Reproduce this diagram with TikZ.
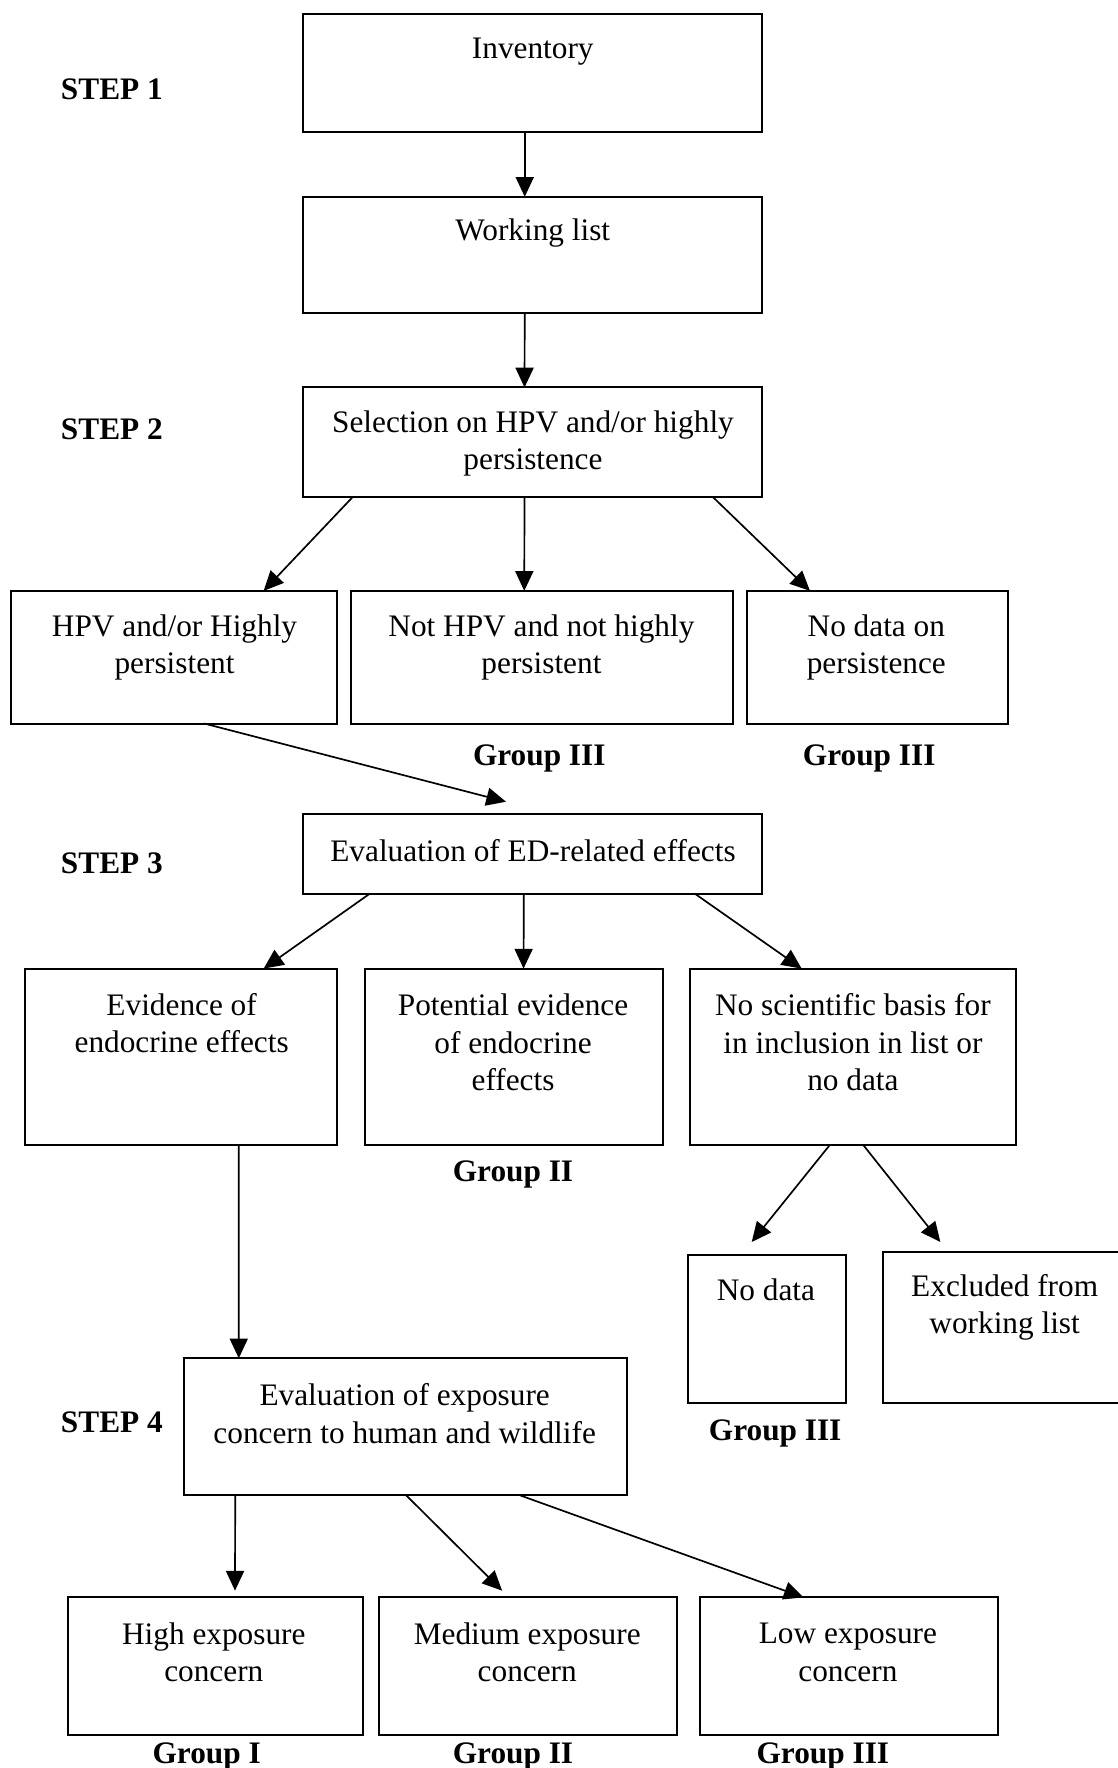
\documentclass[tikz,border=0pt]{standalone}
\usepackage{fontspec}
\setmainfont{Liberation Serif}
\usetikzlibrary{arrows.meta,calc}

\begin{document}
\begin{tikzpicture}[x=0.02cm,y=-0.02cm,every text node part/.style={align=center},
    every node/.style={font=\fontsize{15.8}{18.8}\selectfont},
    box/.style={draw,line width=1pt,inner sep=0pt,outer sep=0pt},
    txt/.style={yshift=-0.05cm},
    steplabel/.style={txt,font=\fontsize{15.8}{18.8}\selectfont\bfseries},
    grouplabel/.style={txt,font=\fontsize{15.8}{18.8}\selectfont\bfseries},
    arr/.style={line width=0.85pt,-{Triangle[length=0.35cm,width=0.32cm]}}]

    \useasboundingbox (0,0) rectangle (991,1568);

    % --------------------------------------------------------- %
    % ------------- STEP 1 (Inventory, working list)
    % --------------------------------------------------------- %
    \node[steplabel] (step1) at (99.2,76.3) {STEP 1};
    \node[box,minimum width=8.152cm,minimum height=2.088cm] (inv) at (472.3,64.6) {};
    \node[txt] (invtxt) at (472.5,42.9) {Inventory};
    \node[box,minimum width=8.152cm,minimum height=2.07cm] (work) at (472.3,226.25) {};
    \node[txt] (worktxt) at (472.5,204) {Working list};
    \draw[arr] ($(inv.south west)!.483!(inv.south east)$) -- ($(work.north west)!.483!(work.north east)$);

    % --------------------------------------------------------- %
    % ------------- STEP 2 (HPV and persistence)
    % --------------------------------------------------------- %
    \node[steplabel] (step2) at (99.2,378.5) {STEP 2};
    \node[box,minimum width=8.14cm,minimum height=1.94cm] (sel) at (472.5,392.1) {};
    \node[txt] (seltxt) at (472.7,391.1) {Selection on HPV and/or highly\\persistence};
    \draw[arr] ($(work.south west)!.483!(work.south east)$) -- ($(sel.north west)!.482!(sel.north east)$);

    \node[box,minimum width=5.79cm,minimum height=2.354cm] (hpv) at (154.25,582.85) {};
    \node[txt] (hpvtxt) at (154.8,571.5) {HPV and/or Highly\\persistent};
    \node[box,minimum width=6.786cm,minimum height=2.354cm] (nothpv) at (480.55,582.85) {};
    \node[txt] (nothpvtxt) at (480.2,571.5) {Not HPV and not highly\\persistent};
    \node[box,minimum width=4.638cm,minimum height=2.354cm] (nopers) at (778.15,582.85) {};
    \node[txt] (noperstxt) at (777.2,571.5) {No data on\\persistence};

    \draw[arr] ($(sel.south west)!.108!(sel.south east)$) -- ($(hpv.north west)!.775!(hpv.north east)$);
    \draw[arr] ($(sel.south west)!.482!(sel.south east)$) -- ($(nothpv.north west)!.454!(nothpv.north east)$);
    \draw[arr] ($(sel.south west)!.892!(sel.south east)$) -- ($(nopers.north west)!.242!(nopers.north east)$);

    \node[grouplabel] (grpnothpv) at (478.3,669.8) {Group III};
    \node[grouplabel] (grpnopers) at (770.9,669.8) {Group III};

    % --------------------------------------------------------- %
    % ------------- STEP 3 (ED-related effects)
    % --------------------------------------------------------- %
    \node[steplabel] (step3) at (99.2,763) {STEP 3};
    \node[box,minimum width=8.15cm,minimum height=1.406cm] (ed) at (472.3,757.35) {};
    \node[txt] (edtxt) at (472.7,751.7) {Evaluation of ED-related effects};
    \draw[arr,shorten >=0.89cm] ($(hpv.south west)!.593!(hpv.south east)$) -- ($(ed.north west)!.548!(ed.north east)$);

    \node[box,minimum width=5.536cm,minimum height=3.124cm] (evid) at (160.5,937.1) {};
    \node[txt] (evidtxt) at (161.1,904.9) {Evidence of\\endocrine effects};
    \node[box,minimum width=5.284cm,minimum height=3.124cm] (pot) at (455.6,937.1) {};
    \node[txt] (pottxt) at (455,921.9) {Potential evidence\\of endocrine\\effects};
    \node[box,minimum width=5.788cm,minimum height=3.124cm] (nosci) at (756.4,937.1) {};
    \node[txt] (noscitxt) at (756.4,921.9) {No scientific basis for\\in inclusion in list or\\no data};

    \draw[arr] ($(ed.south west)!.146!(ed.south east)$) -- ($(evid.north west)!.765!(evid.north east)$);
    \draw[arr] ($(ed.south west)!.481!(ed.south east)$) -- ($(pot.north west)!.533!(pot.north east)$);
    \draw[arr] ($(ed.south west)!.853!(ed.south east)$) -- ($(nosci.north west)!.343!(nosci.north east)$);

    \node[grouplabel] (grppot) at (455,1039.4) {Group II};

    \node[box,minimum width=2.818cm,minimum height=2.634cm] (nodata) at (680.25,1178.45) {};
    \node[txt] (nodatatxt) at (679.3,1141.8) {No data};
    \node[box,minimum width=4.3cm,minimum height=2.676cm] (excl) at (891,1177.4) {};
    \node[txt] (excltxt) at (891,1156.9) {Excluded from\\working list};

    \draw[arr,shorten >=0.285cm] ($(nosci.south west)!.430!(nosci.south east)$) -- ($(nodata.north west)!.34!(nodata.north east)$);
    \draw[arr,shorten >=0.23cm] ($(nosci.south west)!.531!(nosci.south east)$) -- ($(excl.north west)!.268!(excl.north east)$);

    \node[grouplabel] (grpnodata) at (687.5,1268.8) {Group III};

    % --------------------------------------------------------- %
    % ------------- STEP 4 (exposure concern)
    % --------------------------------------------------------- %
    \node[steplabel] (step4) at (99.2,1258.5) {STEP 4};
    \node[box,minimum width=7.86cm,minimum height=2.432cm] (expo) at (359.5,1265.4) {};
    \node[txt] (expotxt) at (358.9,1251.2) {Evaluation of exposure\\concern to human and wildlife};
    \draw[arr] ($(evid.south west)!.685!(evid.south east)$) -- ($(expo.north west)!.124!(expo.north east)$);

    \node[box,minimum width=5.244cm,minimum height=2.438cm] (high) at (191.1,1477.65) {};
    \node[txt] (hightxt) at (189.6,1463) {High exposure\\concern};
    \node[box,minimum width=5.282cm,minimum height=2.438cm] (med) at (468.25,1477.65) {};
    \node[txt] (medtxt) at (467.6,1463) {Medium exposure\\concern};
    \node[box,minimum width=5.284cm,minimum height=2.438cm] (low) at (752.6,1477.65) {};
    \node[txt] (lowtxt) at (752,1463) {Low exposure\\concern};

    \draw[arr,shorten >=0.12cm] ($(expo.south west)!.116!(expo.south east)$) -- ($(high.north west)!.566!(high.north east)$);
    \draw[arr,shorten >=0.17cm] ($(expo.south west)!.502!(expo.south east)$) -- ($(med.north west)!.436!(med.north east)$);
    \draw[arr] ($(expo.south west)!.759!(expo.south east)$) -- ($(low.north west)!.349!(low.north east)$);

    \node[grouplabel] (grphigh) at (183.3,1555.6) {Group I};
    \node[grouplabel] (grpmed) at (455,1555.6) {Group II};
    \node[grouplabel] (grplow) at (729.8,1555.6) {Group III};

  \end{tikzpicture}
\end{document}
